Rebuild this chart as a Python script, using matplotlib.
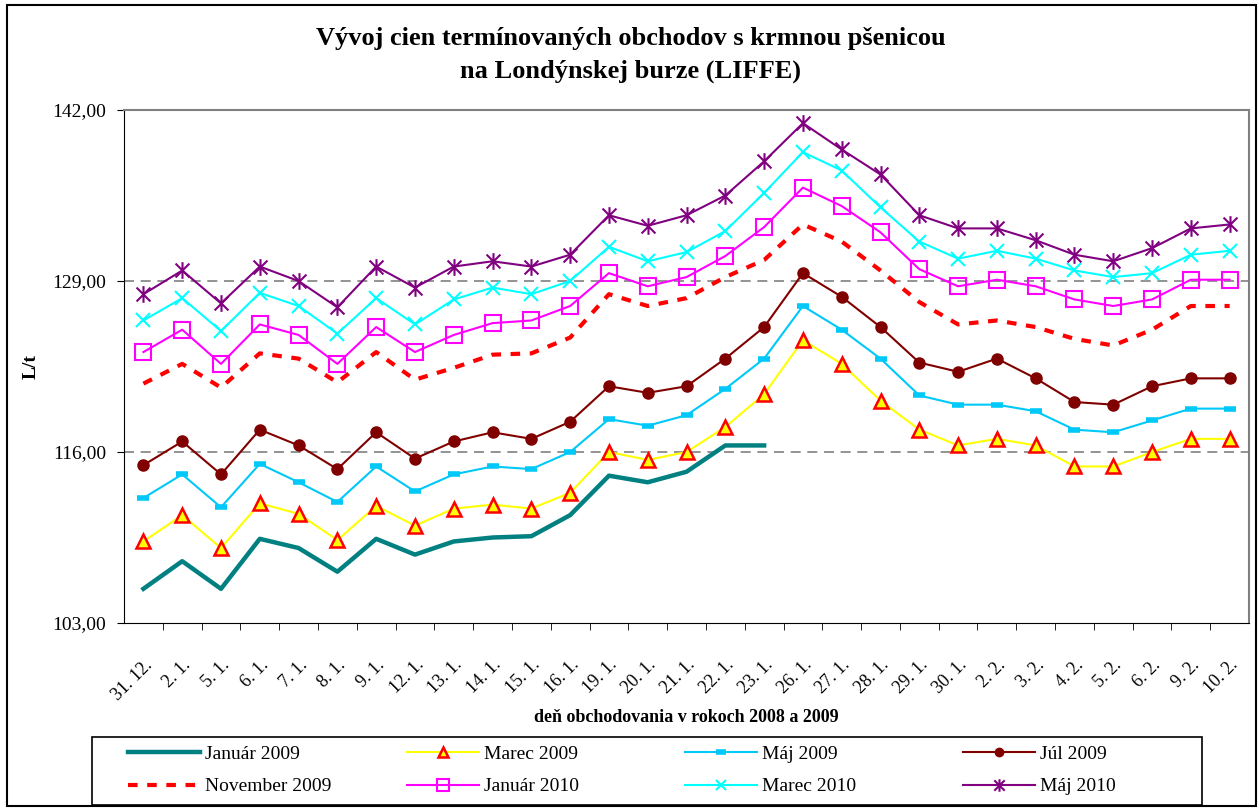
import matplotlib
matplotlib.use("Agg")
import matplotlib.pyplot as plt
from matplotlib.path import Path
from matplotlib.patches import Rectangle

plt.rcParams['font.family'] = ['Liberation Serif', 'DejaVu Serif']

days = ['31. 12.', '2. 1.', '5. 1.', '6. 1.', '7. 1.', '8. 1.', '9. 1.', '12. 1.',
        '13. 1.', '14. 1.', '15. 1.', '16. 1.', '19. 1.', '20. 1.', '21. 1.', '22. 1.',
        '23. 1.', '26. 1.', '27. 1.', '28. 1.', '29. 1.', '30. 1.', '2. 2.', '3. 2.',
        '4. 2.', '5. 2.', '6. 2.', '9. 2.', '10. 2.']

jan09 = [105.6, 107.7, 105.6, 109.4, 108.7, 106.9, 109.4, 108.2, 109.2, 109.5, 109.6,
         111.2, 114.2, 113.7, 114.5, 116.5, 116.5]
mar09 = [109.2, 111.2, 108.7, 112.1, 111.3, 109.3, 111.9, 110.4, 111.7, 112.0, 111.7,
         112.9, 116.0, 115.4, 116.0, 117.9, 120.4, 124.5, 122.7, 119.9, 117.7, 116.5,
         117.0, 116.5, 114.9, 114.9, 116.0, 117.0, 117.0]
maj09 = [112.5, 114.3, 111.8, 115.1, 113.7, 112.2, 114.9, 113.0, 114.3, 114.9, 114.7,
         116.0, 118.5, 118.0, 118.8, 120.8, 123.1, 127.1, 125.3, 123.1, 120.3, 119.6,
         119.6, 119.1, 117.7, 117.5, 118.4, 119.3, 119.3]
jul09 = [115.0, 116.8, 114.3, 117.7, 116.5, 114.7, 117.5, 115.5, 116.8, 117.5, 117.0,
         118.3, 121.0, 120.5, 121.0, 123.1, 125.5, 129.6, 127.8, 125.5, 122.8, 122.1,
         123.1, 121.6, 119.8, 119.6, 121.0, 121.6, 121.6]
nov09 = [121.2, 122.7, 120.9, 123.5, 123.1, 121.3, 123.6, 121.5, 122.4, 123.4, 123.5,
         124.7, 128.0, 127.1, 127.7, 129.3, 130.6, 133.3, 132.0, 129.8, 127.4, 125.7,
         126.0, 125.5, 124.6, 124.1, 125.3, 127.1, 127.1]
jan10 = [123.6, 125.3, 122.7, 125.7, 124.9, 122.7, 125.5, 123.6, 124.9, 125.8, 126.0,
         127.1, 129.6, 128.6, 129.3, 130.9, 133.1, 136.1, 134.7, 132.7, 129.9, 128.6,
         129.1, 128.6, 127.6, 127.1, 127.6, 129.1, 129.1]
mar10 = [126.0, 127.7, 125.2, 128.1, 127.1, 125.0, 127.7, 125.7, 127.6, 128.5, 128.0,
         129.0, 131.6, 130.5, 131.2, 132.8, 135.7, 138.8, 137.4, 134.6, 132.0, 130.7,
         131.3, 130.7, 129.8, 129.3, 129.6, 131.0, 131.3]
maj10 = [128.0, 129.8, 127.3, 130.1, 129.0, 127.0, 130.1, 128.5, 130.1, 130.5, 130.1,
         131.0, 134.0, 133.2, 134.0, 135.5, 138.1, 141.0, 139.0, 137.1, 134.0, 133.0,
         133.0, 132.1, 131.0, 130.5, 131.5, 133.0, 133.3]

yticks = [103, 116, 129, 142]

# asterisk marker like in Excel: x with a vertical bar
star = Path([(-1, -1), (1, 1), (-1, 1), (1, -1), (0, -1.2), (0, 1.2)],
            [Path.MOVETO, Path.LINETO, Path.MOVETO, Path.LINETO, Path.MOVETO, Path.LINETO])

fig = plt.figure(figsize=(12.59, 8.09), dpi=100)
ax = fig.add_axes([0.0985, 0.2299, 0.8936, 0.6341])
x = list(range(len(days)))

for y in (116, 129):
    ax.axhline(y, color='#808080', lw=1.2, ls=(0, (6, 4)), zorder=0)

h_jan09, = ax.plot(x[:len(jan09)], jan09, color='#008080', lw=3.2, label='Január 2009')
h_mar09, = ax.plot(x, mar09, color='#FFFF00', lw=1.5, marker='^', ms=10,
                   mfc='#FFFF00', mec='#FF0000', mew=1.8, label='Marec 2009')
h_maj09, = ax.plot(x, maj09, color='#00C8F8', lw=1.5, marker='_', ms=9, mew=4,
                   label='Máj 2009')
h_jul09, = ax.plot(x, jul09, color='#800000', lw=1.5, marker='o', ms=8,
                   label='Júl 2009')
h_nov09, = ax.plot(x, nov09, color='#FF0000', lw=3, ls=(0, (2.3, 2.3)),
                   label='November 2009')
h_jan10, = ax.plot(x, jan10, color='#FF00FF', lw=1.5, marker='s', ms=11,
                   mfc='none', mec='#FF00FF', mew=1.5, label='Január 2010')
h_mar10, = ax.plot(x, mar10, color='#00FFFF', lw=1.5, marker='x', ms=10, mew=1.5,
                   label='Marec 2010')
h_maj10, = ax.plot(x, maj10, color='#800080', lw=1.5, marker=star, ms=12, mew=1.5,
                   label='Máj 2010')

ax.set_xlim(-0.5, len(days) - 0.5)
ax.set_ylim(103, 142)
ax.set_yticks(yticks)
ax.set_yticklabels([f'{v:.2f}'.replace('.', ',') for v in yticks], fontsize=14)
ax.set_xticks(x)
ax.set_xticklabels(days, rotation=45, ha='right', rotation_mode='anchor', fontsize=13)
ax.tick_params(axis='x', which='major', length=0, pad=24)
ax.set_xticks([i + 0.5 for i in x[:-1]], minor=True)
ax.tick_params(axis='x', which='minor', length=5, direction='out', color='black')
ax.tick_params(axis='y', length=5, direction='out', pad=8)

ax.spines['top'].set_color('#808080')
ax.spines['right'].set_color('#808080')
ax.spines['top'].set_linewidth(1.5)
ax.spines['right'].set_linewidth(1.5)

ax.set_ylabel('L/t', fontsize=14, fontweight='bold')
ax.yaxis.set_label_coords(-0.075, 0.5)
ax.set_xlabel('deň obchodovania v rokoch 2008 a 2009', fontsize=13, fontweight='bold')
ax.xaxis.set_label_coords(0.5, -0.168)

fig.text(0.501, 0.952, 'Vývoj cien termínovaných obchodov s krmnou pšenicou',
         ha='center', va='center', fontsize=19, fontweight='bold')
fig.text(0.501, 0.912, 'na Londýnskej burze (LIFFE)',
         ha='center', va='center', fontsize=19, fontweight='bold')

# legend: four fixed-width columns of two entries, inside one frame
columns = [(h_jan09, h_nov09), (h_mar09, h_jan10), (h_maj09, h_mar10), (h_jul09, h_maj10)]
col_x = [128, 407, 685, 963]
for cx, col in zip(col_x, columns):
    fig.legend(handles=list(col), labels=[h.get_label() for h in col],
               loc='upper left', bbox_to_anchor=(cx / 1259, 1 - 745 / 809),
               frameon=False, fontsize=14, handlelength=3.7, handletextpad=0.25,
               borderpad=0, borderaxespad=0, labelspacing=0.78, markerscale=0.75)

fig.patches.append(Rectangle((92 / 1259, 1 - 805 / 809), (1202 - 92) / 1259, 68 / 809,
                             transform=fig.transFigure, fill=False,
                             edgecolor='black', lw=1.2))
fig.patches.append(Rectangle((0.0056, 0.0037), 0.992, 0.990, transform=fig.transFigure,
                             fill=False, edgecolor='black', lw=1.5))

fig.savefig('out.png', dpi=100)
